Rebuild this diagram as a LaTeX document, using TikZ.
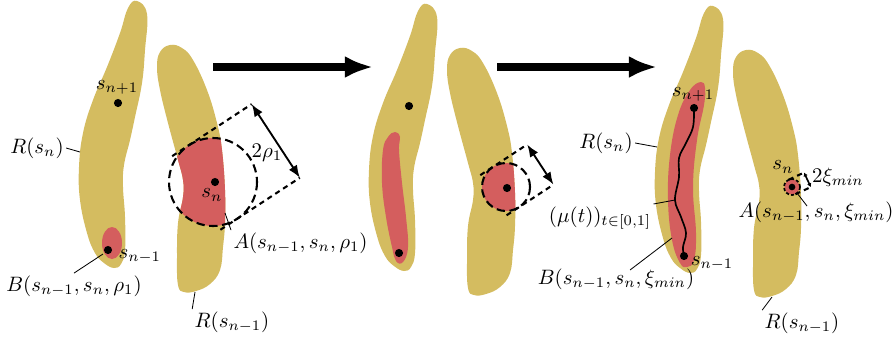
\documentclass[tikz,border=0pt]{standalone}
\usetikzlibrary{arrows.meta,calc}
\definecolor{gold}{RGB}{212,188,96}
\definecolor{rose}{RGB}{212,94,94}
\tikzset{
 dotmark/.style={circle,fill=black,inner sep=0pt,minimum size=3.9pt},
 dashcirc/.style={draw=black,line width=1pt,dash pattern=on 4pt off 2.2pt},
 dashline/.style={draw=black,line width=1pt,dash pattern=on 2.5pt off 2pt},
 tinycirc/.style={draw=black,line width=0.8pt,dash pattern=on 1.5pt off 1pt},
 leader/.style={draw=black,line width=0.4pt},
 bigarrow/.style={line width=3.8pt,-{Latex[length=13.5pt,width=10.6pt]}},
 dimarrow/.style={line width=0.9pt,{Latex[length=6pt,width=4.6pt]}-{Latex[length=6pt,width=4.6pt]}},
 tinyarrow/.style={line width=0.8pt,{Latex[length=1.8pt,width=2.2pt]}-{Latex[length=1.8pt,width=2.2pt]}},
 lbl/.style={inner sep=1pt},
}
\newcommand\blobL{plot[smooth cycle,tension=0.7] coordinates {(137,1) (147,14) (145,50) (142,83) (135,117) (130,140) (124,165) (123,187) (125,217) (125,250) (121,264) (114,268) (104,263) (95,253) (87,233) (80,200) (79,167) (83,133) (93,100) (107,67) (120,33) (128,8)}}
\newcommand\blobR{plot[smooth cycle,tension=0.7] coordinates {(170,45) (182,48) (193,60) (207,90) (217,123) (222,150) (225,190) (225,223) (223,247) (220,270) (210,284) (196,291) (184,292) (178,285) (177,257) (178,223) (183,197) (183,180) (178,160) (168,123) (160,90) (157,67) (160,52)}}
% #1 name, #2 cx, #3 cy, #4 r, #5 theta, #6 back, #7 forward, #8 circle style, #9 arrow style
\newcommand\dimbox[9]{%
 \coordinate (#1c) at (#2,#3);
 \coordinate (#1u) at ($(#1c)+(#5+180:#4)$);
 \coordinate (#1d) at ($(#1c)+(#5:#4)$);
 \coordinate (#1ua) at ($(#1u)+(#5+90:#6)$);
 \coordinate (#1ub) at ($(#1u)+(#5-90:#7)$);
 \coordinate (#1da) at ($(#1d)+(#5+90:#6)$);
 \coordinate (#1db) at ($(#1d)+(#5-90:#7)$);
 \draw[#8] (#1c) circle (#4);
 \draw[dashline] (#1ua) -- (#1ub);
 \draw[dashline] (#1da) -- (#1db);
 \draw[#9] (#1ub) -- (#1db);
}
\begin{document}
\begin{tikzpicture}[x=0.48pt,y=-0.48pt]
\useasboundingbox (0,0) rectangle (893,341);

% ---------------- Panel 1 ----------------
\fill[gold] \blobL;
\fill[gold] \blobR;
\fill[rose] (112,243) ellipse (10 and 16);
\begin{scope}
 \clip (213,182) circle (44);
 \fill[rose] \blobR;
\end{scope}
\dimbox{p1}{213}{182}{44}{56.8}{20}{75}{dashcirc}{dimarrow}
\node[dotmark] (p1dnp) at (118,103) {};
\node[dotmark] (p1dnm) at (108,250) {};
\node[dotmark] (p1dn) at (215,182) {};
\node[lbl] (p1snp) at (117,87) {$s_{n+1}$};
\node[lbl,anchor=west] (p1snm) at (116,256) {$s_{n-1}$};
\node[lbl] (p1sn) at (212,195) {$s_n$};
\node[lbl] (p1rho) at (267,153) {$2\rho_1$};
\node[lbl] (p1Rsn) at (37,148) {$R(s_n)$};
\coordinate (p1Rsnpt) at (80,152);
\draw[leader] (p1Rsn.east) -- (p1Rsnpt);
\node[lbl] (p1B) at (74,286) {$B(s_{n-1},s_n,\rho_1)$};
\coordinate (p1Bpt) at (103,254);
\draw[leader] (p1Bpt) -- (p1B.north);
\node[lbl,anchor=west] (p1A) at (231,243) {$A(s_{n-1},s_n,\rho_1)$};
\coordinate (p1Apt) at (225,213);
\draw[leader] (p1Apt) -- (p1A.north west);
\node[lbl] (p1Rsm) at (232,322) {$R(s_{n-1})$};
\coordinate (p1Rsmpt) at (195,292);
\draw[leader] (p1Rsmpt) -- (p1Rsm.north west);

% big arrows
\coordinate (a1s) at (213,67);
\coordinate (a1e) at (373,67);
\draw[bigarrow] (a1s) -- (a1e);
\coordinate (a2s) at (497,67);
\coordinate (a2e) at (657,67);
\draw[bigarrow] (a2s) -- (a2e);

% ---------------- Panel 2 ----------------
\begin{scope}[shift={(290,3)}]
 \fill[gold] \blobL;
 \fill[gold] \blobR;
\end{scope}
\fill[rose] plot[smooth cycle,tension=0.7] coordinates {(395,132) (400,137) (399,150) (402,183) (406,217) (408,247) (403,262) (396,261) (392,247) (386,217) (382,183) (383,150) (388,137)};
\begin{scope}
 \clip (506,187) circle (24);
 \begin{scope}[shift={(290,3)}]
  \fill[rose] \blobR;
 \end{scope}
\end{scope}
\dimbox{p2}{506}{187}{24}{56.8}{15}{41}{dashcirc}{dimarrow}
\node[dotmark] (p2dnp) at (409,106) {};
\node[dotmark] (p2dnm) at (399,253) {};
\node[dotmark] (p2dn) at (507,188) {};

% ---------------- Panel 3 ----------------
\begin{scope}[shift={(576,5)}]
 \fill[gold] \blobL;
 \fill[gold] \blobR;
\end{scope}
\fill[rose] plot[smooth cycle,tension=0.7] coordinates {(701,82) (705,88) (704,105) (697,140) (693,187) (696,233) (694,260) (687,267) (680,263) (672,240) (668,200) (670,155) (678,115) (690,90)};
\node[dotmark] (p3dnp) at (694,108) {};
\node[dotmark] (p3dnm) at (684,256) {};
\draw[line width=0.8pt] plot[smooth,tension=0.6] coordinates {(694,108) (693,127) (686,143) (679,158) (679,177) (675,200) (681,217) (686,233) (683,247) (684,256)};
\fill[rose] (792,187) circle (7.5);
\dimbox{p3}{792}{187}{8}{65}{0}{17}{tinycirc}{tinyarrow}
\node[dotmark,minimum size=3.2pt] (p3dn) at (792,187) {};
\node[lbl] (p3snp) at (693,94) {$s_{n+1}$};
\node[lbl] (p3snm) at (712,263) {$s_{n-1}$};
\node[lbl] (p3Rsn) at (606,143) {$R(s_n)$};
\coordinate (p3Rsnpt) at (657,147);
\draw[leader] (p3Rsn.east) -- (p3Rsnpt);
\node[lbl] (p3mu) at (600,218) {$(\mu(t))_{t\in[0,1]}$};
\coordinate (p3mupt) at (675,200);
\draw[leader] (p3mu.north east) -- (p3mupt);
\node[lbl] (p3B) at (616,279) {$B(s_{n-1},s_n,\xi_{min})$};
\coordinate (p3Bpt) at (672,238);
\draw[leader] (630,270) -- (p3Bpt);
\node[lbl] (p3sn) at (783,167) {$s_n$};
\node[lbl] (p3xi) at (838,177) {$2\xi_{min}$};
\node[lbl] (p3A) at (816,212) {$A(s_{n-1},s_n,\xi_{min})$};
\coordinate (p3Apt) at (797,193);
\draw[leader] (p3Apt) -- (807,206);
\node[lbl] (p3Rsm) at (802,323) {$R(s_{n-1})$};
\coordinate (p3Rsmpt) at (772,297);
\draw[leader] (p3Rsmpt) -- (p3Rsm.north west);
\end{tikzpicture}
\end{document}
